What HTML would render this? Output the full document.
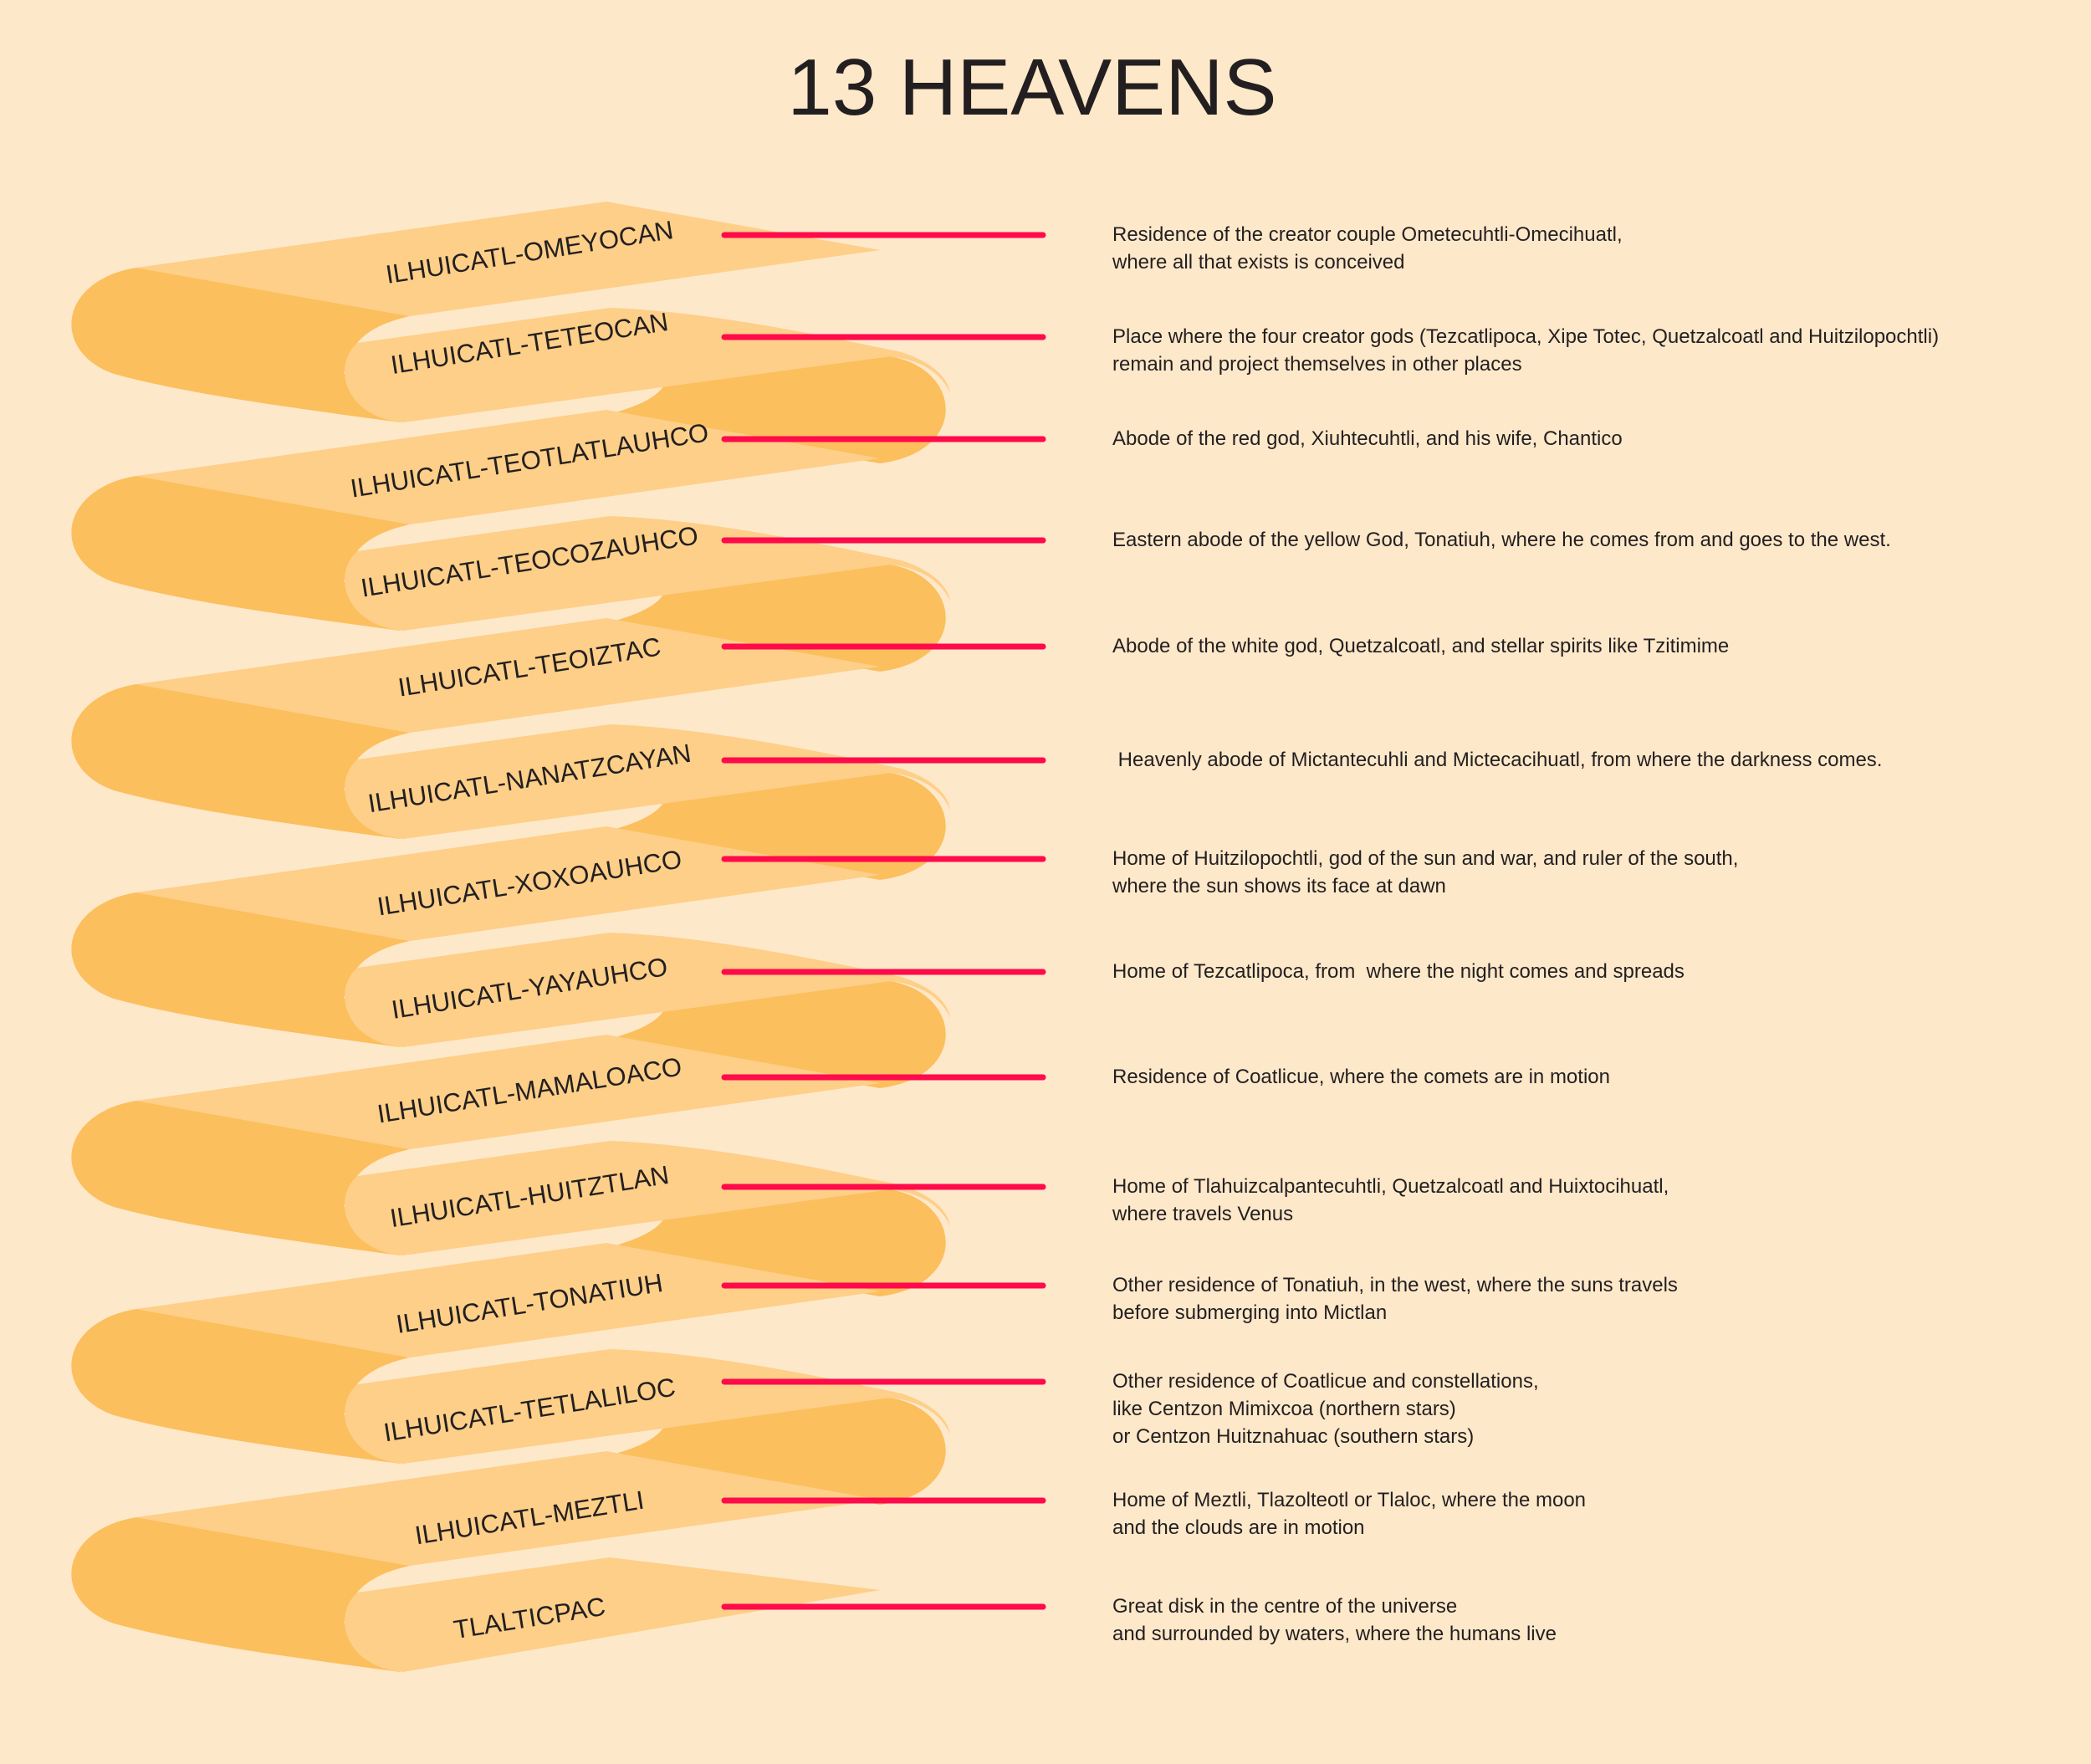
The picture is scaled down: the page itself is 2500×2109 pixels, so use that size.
<!DOCTYPE html>
<html><head><meta charset="utf-8">
<style>
html,body{margin:0;padding:0;background:#fee8ca;}
#wrap{position:relative;width:2500px;height:2109px;overflow:hidden;background:#fee8ca;font-family:"Liberation Sans",sans-serif;}
#title{position:absolute;left:0;width:2468px;top:50px;text-align:center;font-size:96px;color:#231f20;letter-spacing:0px;}
.desc{position:absolute;left:1330px;font-size:24px;line-height:33px;color:#231f20;white-space:pre;}
</style></head>
<body>
<div id="wrap">
<div id="title">13 HEAVENS</div>
<svg id="svg" width="2500" height="2109" style="position:absolute;left:0;top:0"></svg>
</div>
<script>
const labels=["ILHUICATL-OMEYOCAN","ILHUICATL-TETEOCAN","ILHUICATL-TEOTLATLAUHCO","ILHUICATL-TEOCOZAUHCO","ILHUICATL-TEOIZTAC","ILHUICATL-NANATZCAYAN","ILHUICATL-XOXOAUHCO","ILHUICATL-YAYAUHCO","ILHUICATL-MAMALOACO","ILHUICATL-HUITZTLAN","ILHUICATL-TONATIUH","ILHUICATL-TETLALILOC","ILHUICATL-MEZTLI","TLALTICPAC"];
const labelY=[301,410,550,671,797,930,1055,1181,1303,1430,1558,1685,1814,1934];
const lineY=[281,403,525,646,773,909,1027,1162,1288,1419,1537,1652,1794,1921];
const descs=["Residence of the creator couple Ometecuhtli-Omecihuatl,\nwhere all that exists is conceived",
"Place where the four creator gods (Tezcatlipoca, Xipe Totec, Quetzalcoatl and Huitzilopochtli)\nremain and project themselves in other places",
"Abode of the red god, Xiuhtecuhtli, and his wife, Chantico",
"Eastern abode of the yellow God, Tonatiuh, where he comes from and goes to the west.",
"Abode of the white god, Quetzalcoatl, and stellar spirits like Tzitimime",
" Heavenly abode of Mictantecuhli and Mictecacihuatl, from where the darkness comes.",
"Home of Huitzilopochtli, god of the sun and war, and ruler of the south,\nwhere the sun shows its face at dawn",
"Home of Tezcatlipoca, from  where the night comes and spreads",
"Residence of Coatlicue, where the comets are in motion",
"Home of Tlahuizcalpantecuhtli, Quetzalcoatl and Huixtocihuatl,\nwhere travels Venus",
"Other residence of Tonatiuh, in the west, where the suns travels\nbefore submerging into Mictlan",
"Other residence of Coatlicue and constellations,\nlike Centzon Mimixcoa (northern stars)\nor Centzon Huitznahuac (southern stars)",
"Home of Meztli, Tlazolteotl or Tlaloc, where the moon\nand the clouds are in motion",
"Great disk in the centre of the universe\nand surrounded by waters, where the humans live"];
const NS="http://www.w3.org/2000/svg";
const svg=document.getElementById('svg');
const LIGHT="#fdcf88",DARK="#fcbf5e";
function P(d,fill){const p=document.createElementNS(NS,'path');p.setAttribute('d',d);p.setAttribute('fill',fill);svg.appendChild(p);return p;}
const PER=249;
for(let k=0;k<7;k++){
  const o=k*PER;
  const g=(x,y)=>x+","+(y+o);
  let p;
  p=P(`M${g(163,320)} L${g(490,378)} Q${g(445,388)} ${g(427,410)} L${g(411,446)} L${g(478,505)} C${g(330,485)} ${g(220,470)} ${g(136,447)} C${g(60,420)} ${g(70,335)} ${g(163,320)} Z`,DARK);
  
  
  p=P(`M${g(163,320)} L${g(725,241)} L${g(1052,299)} L${g(490,378)} Z`,LIGHT);
  
  
  if(k<6){
    p=P(`M${g(1064,426)} C${g(1150,440)} ${g(1160,540)} ${g(1052,554)} L${g(725,496)} Q${g(780,482)} ${g(793,462)} Z`,DARK);
    
    
    p=P(`M${g(427,410)} L${g(729,368)} C${g(850,372)} ${g(1000,405)} ${g(1078,421)} C${g(1120,435)} ${g(1134,455)} ${g(1136,470)} C${g(1125,445)} ${g(1100,430)} ${g(1064,426)} L${g(482,505)} C${g(415,500)} ${g(395,440)} ${g(427,410)} Z`,LIGHT);
  } else {
    p=P(`M${g(427,410)} L${g(729,368)} L${g(1052,407)} L${g(482,505)} C${g(415,500)} ${g(395,440)} ${g(427,410)} Z`,LIGHT);
  }
  
  
}
for(let i=0;i<labels.length;i++){
  const t=document.createElementNS(NS,'text');
  t.setAttribute('x',633);t.setAttribute('y',labelY[i]+11);
  t.setAttribute('text-anchor','middle');t.setAttribute('font-size','31');
  t.setAttribute('font-family','Liberation Sans, sans-serif');t.setAttribute('fill','#231f20');
  t.setAttribute('transform',`rotate(-9 633 ${labelY[i]})`);
  t.textContent=labels[i];
  
  
  svg.appendChild(t);
  const l=document.createElementNS(NS,'line');
  l.setAttribute('x1',866);l.setAttribute('x2',1247);l.setAttribute('y1',lineY[i]);l.setAttribute('y2',lineY[i]);
  l.setAttribute('stroke','#ff0a4a');l.setAttribute('stroke-width','7');l.setAttribute('stroke-linecap','round');
  
  
  svg.appendChild(l);
  const d=document.createElement('div');
  d.className='desc';d.style.top=(lineY[i]-17)+'px';d.textContent=descs[i];
  
  
  document.getElementById('wrap').appendChild(d);
}
</script>
</body></html>
